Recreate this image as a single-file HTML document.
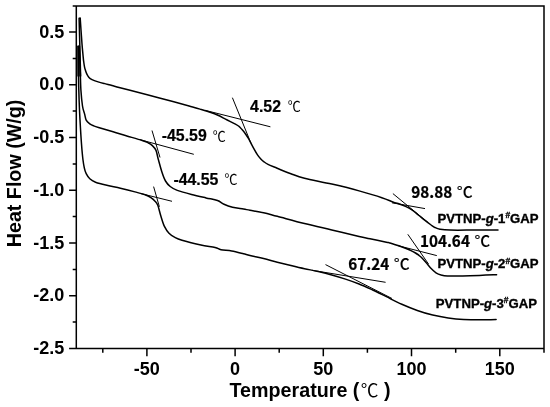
<!DOCTYPE html>
<html lang="en"><head><meta charset="utf-8"><title>DSC curves</title>
<style>
html,body{margin:0;padding:0;background:#fff;}
svg{display:block;will-change:transform;}
text{font-family:"Liberation Sans","Noto Sans CJK SC",sans-serif;fill:#000;}
.b{font-weight:bold;}
.deg{font-family:"Noto Sans CJK SC",sans-serif;font-weight:400;}
.yh{font-family:"Noto Sans CJK SC","Liberation Sans",sans-serif;font-weight:bold;}
.sdeg{font-family:"Noto Sans CJK SC","Liberation Sans",sans-serif;font-weight:500;}
</style></head><body>
<svg width="550" height="407" viewBox="0 0 550 407">
<rect width="550" height="407" fill="#fff"/>
<g fill="none" stroke="#000" stroke-width="1.5" stroke-linecap="butt">
<path d="M72.7,6.0 H544.0 V352.7 H544.0"/>
<path d="M76.3,6.0 V348.5"/>
<path d="M69.1,348.5 H544.0"/>
<path d="M69.1,32.0H76.3M72.7,58.4H76.3M69.1,84.8H76.3M72.7,111.1H76.3M69.1,137.5H76.3M72.7,163.9H76.3M69.1,190.2H76.3M72.7,216.6H76.3M69.1,243.0H76.3M72.7,269.4H76.3M69.1,295.8H76.3M72.7,322.1H76.3"/>
<path d="M102.8,348.5V352.7M146.9,348.5V356.2M191.0,348.5V352.7M235.1,348.5V356.2M279.2,348.5V352.7M323.3,348.5V356.2M367.4,348.5V352.7M411.5,348.5V356.2M455.7,348.5V352.7M499.8,348.5V356.2"/>
</g>
<g fill="none" stroke="#000" stroke-width="1.5" stroke-linejoin="round" stroke-linecap="round">
<path d="M80.6,76.0 L79.1,18.3 L80.2,18.3"/>
<path d="M80.2,18.3 C80.3,20.2 80.7,25.7 81.0,30.0 C81.3,34.3 81.7,40.0 82.0,44.0 C82.3,48.0 82.6,51.0 82.9,54.0 C83.2,57.0 83.4,59.6 83.7,61.7 C84.0,63.8 84.2,65.3 84.5,66.8 C84.8,68.3 85.1,69.2 85.5,70.5 C85.9,71.8 86.4,73.2 87.0,74.4 C87.6,75.6 88.2,76.6 89.0,77.5 C89.8,78.4 90.6,78.9 92.0,79.6 C93.4,80.3 95.3,81.0 97.3,81.6 C99.3,82.2 101.5,82.8 104.0,83.4 C106.5,84.1 109.5,84.8 112.0,85.5 C114.5,86.2 116.1,86.7 119.1,87.5 C122.1,88.3 125.2,89.1 130.0,90.3 C134.8,91.5 141.5,93.2 148.2,94.9 C154.9,96.7 163.2,99.0 170.0,100.8 C176.8,102.6 184.1,104.6 189.1,106.0 C194.1,107.4 196.4,108.0 200.0,109.1 C203.6,110.2 207.9,111.5 210.9,112.5 C213.9,113.5 215.6,114.2 218.0,115.3 C220.4,116.4 222.6,117.6 225.5,119.1 C228.4,120.6 233.2,122.9 235.4,124.1 C237.7,125.3 237.9,125.5 239.0,126.4 C240.1,127.3 241.0,128.5 242.0,129.6 C243.0,130.7 244.0,131.8 245.0,133.2 C246.0,134.6 247.1,136.2 248.2,138.0 C249.2,139.8 250.3,141.9 251.3,143.8 C252.3,145.7 253.4,147.8 254.4,149.6 C255.4,151.4 256.4,153.2 257.5,154.8 C258.6,156.4 259.7,157.7 260.8,158.9 C261.9,160.1 262.8,160.9 264.0,161.8 C265.2,162.7 265.8,163.2 268.0,164.3 C270.2,165.4 273.4,166.6 277.2,168.2 C281.0,169.8 286.3,172.0 290.9,173.7 C295.4,175.4 297.7,176.6 304.5,178.3 C311.3,180.0 322.7,182.0 331.8,184.1 C340.9,186.2 350.8,188.6 359.1,190.9 C367.4,193.2 376.2,195.8 381.8,197.7 C387.4,199.5 389.9,200.9 392.8,202.0 C395.7,203.1 397.1,203.3 399.2,204.0 C401.3,204.7 403.4,205.4 405.5,206.4 C407.6,207.4 409.8,208.5 411.9,209.9 C414.0,211.3 416.2,213.3 418.3,215.0 C420.4,216.7 422.6,218.4 424.7,220.1 C426.8,221.8 429.4,223.8 431.1,225.0 C432.8,226.2 433.4,226.8 434.9,227.5 C436.4,228.2 437.5,228.8 440.0,229.2 C442.5,229.6 444.2,229.9 450.0,230.1 C455.8,230.2 467.0,230.1 475.0,230.1 C483.0,230.1 494.2,229.9 498.0,229.9"/>
<path d="M79.0,76.0 L79.0,46.3 L79.4,46.3"/>
<path d="M79.4,46.3 C79.5,50.2 80.0,62.7 80.2,70.0 C80.5,77.3 80.5,84.0 80.9,90.0 C81.3,96.0 81.9,101.9 82.5,106.0 C83.1,110.1 84.1,112.0 84.7,114.4 C85.3,116.8 85.4,118.6 86.2,120.2 C87.0,121.8 88.6,122.9 89.8,123.8 C91.0,124.7 92.0,125.2 93.5,125.8 C95.0,126.4 95.2,126.5 98.5,127.5 C101.8,128.5 108.2,130.4 113.1,131.8 C117.9,133.2 122.8,134.8 127.6,136.2 C132.4,137.6 138.8,139.4 142.2,140.5 C145.6,141.6 146.3,141.8 148.0,142.7 C149.7,143.5 151.1,144.3 152.4,145.6 C153.7,146.9 155.0,148.2 156.0,150.4 C157.0,152.6 157.2,155.4 158.2,159.0 C159.2,162.6 160.7,168.3 161.9,172.0 C163.1,175.7 164.1,178.6 165.5,181.0 C166.9,183.4 168.2,184.9 170.2,186.5 C172.2,188.1 173.8,189.1 177.3,190.4 C180.9,191.7 186.7,193.2 191.5,194.4 C196.3,195.7 201.7,196.9 206.0,197.9 C210.3,198.9 214.5,199.4 217.5,200.5 C220.5,201.6 221.5,203.2 224.0,204.3 C226.5,205.4 229.2,206.4 232.5,207.2 C235.8,208.0 240.6,208.5 243.5,209.0 C246.4,209.5 246.7,209.7 250.0,210.3 C253.3,210.9 259.1,211.7 263.6,212.7 C268.2,213.7 270.5,214.5 277.3,216.3 C284.1,218.1 295.4,221.3 304.5,223.6 C313.6,225.9 322.7,227.8 331.8,229.9 C340.9,232.0 352.7,234.9 359.1,236.4 C365.5,237.9 365.4,237.7 370.0,238.7 C374.6,239.7 383.1,241.5 386.4,242.2 C389.7,242.9 387.3,242.2 390.0,243.0 C392.7,243.8 399.6,246.1 402.8,247.2 C406.0,248.3 407.1,248.8 409.2,249.8 C411.3,250.8 413.6,251.8 415.5,253.0 C417.4,254.2 419.0,255.3 420.7,256.8 C422.4,258.3 424.1,260.3 425.8,262.2 C427.5,264.1 429.2,266.5 430.9,268.3 C432.6,270.1 434.3,271.7 436.0,272.8 C437.7,273.9 439.2,274.5 441.1,275.0 C443.0,275.5 442.7,275.8 447.5,275.9 C452.3,276.0 461.8,276.0 470.0,275.8 C478.2,275.6 492.2,274.9 496.6,274.7"/>
<path d="M78.1,76.0 L78.1,46.3"/>
<path d="M78.1,46.3 C78.2,51.9 78.5,72.7 78.6,80.0 C78.7,87.3 78.6,83.3 78.8,90.0 C79.0,96.7 79.5,111.0 80.0,120.0 C80.5,129.0 81.0,137.3 81.5,144.0 C82.0,150.7 82.5,156.0 83.0,160.0 C83.5,164.0 83.8,165.6 84.3,167.9 C84.8,170.2 85.3,171.9 86.2,173.7 C87.1,175.5 88.2,177.4 89.8,178.8 C91.4,180.2 92.9,181.1 95.6,182.2 C98.3,183.2 101.7,184.1 105.8,185.1 C109.9,186.1 115.6,187.2 120.4,188.3 C125.2,189.4 130.8,190.8 134.9,191.9 C139.0,193.0 142.4,193.8 145.1,194.8 C147.8,195.8 149.2,196.6 150.9,197.7 C152.6,198.8 154.1,200.1 155.3,201.4 C156.5,202.7 157.0,203.2 157.9,205.6 C158.8,207.9 159.6,212.1 160.7,215.5 C161.8,218.9 162.9,223.2 164.3,226.1 C165.7,229.0 167.2,231.3 169.0,233.2 C170.8,235.1 172.7,236.2 174.9,237.4 C177.1,238.6 177.7,239.0 182.0,240.3 C186.3,241.6 195.4,243.8 200.9,245.0 C206.4,246.2 211.8,246.6 215.1,247.4 C218.4,248.2 218.2,249.1 221.0,249.7 C223.8,250.3 227.9,250.2 231.7,250.9 C235.4,251.6 240.4,253.0 243.5,253.8 C246.6,254.6 246.7,254.7 250.0,255.5 C253.3,256.3 259.1,257.5 263.6,258.6 C268.2,259.7 272.8,261.1 277.3,262.2 C281.9,263.3 286.4,264.4 290.9,265.5 C295.4,266.6 299.9,267.7 304.5,268.7 C309.1,269.7 313.6,270.4 318.2,271.5 C322.8,272.6 327.2,273.7 331.8,275.0 C336.4,276.3 340.9,277.6 345.5,279.1 C350.1,280.6 354.6,282.2 359.1,284.0 C363.6,285.8 368.1,287.9 372.7,290.0 C377.2,292.1 381.5,294.3 386.4,296.7 C391.2,299.1 396.6,302.0 401.8,304.3 C407.0,306.6 412.2,308.7 417.3,310.5 C422.4,312.3 427.6,313.9 432.7,315.1 C437.8,316.3 443.0,317.2 448.2,317.9 C453.4,318.6 458.5,319.1 463.6,319.4 C468.8,319.7 473.7,319.8 479.1,319.8 C484.5,319.8 493.3,319.5 496.1,319.4"/>
</g>
<g fill="none" stroke="#000" stroke-width="1">
<path d="M205.0,110.3 L270.4,126.8"/>
<path d="M232.4,97.7 L251.0,143.3"/>
<path d="M140.0,139.7 L193.8,154.3"/>
<path d="M152.0,130.5 L160.0,157.5"/>
<path d="M141.0,193.6 L172.0,201.3"/>
<path d="M153.6,186.6 L159.4,206.8"/>
<path d="M392.0,202.8 L425.0,208.6"/>
<path d="M392.9,193.6 L428.0,222.5"/>
<path d="M397.7,245.6 L436.8,255.6"/>
<path d="M407.8,234.3 L428.5,264.0"/>
<path d="M312.0,270.3 L385.6,282.3"/>
<path d="M325.5,264.6 L392.0,298.5"/>
</g>
<text class="b" font-size="18.7" text-anchor="end" transform="translate(64.3,37.6) scale(0.965,1)">0.5</text>
<text class="b" font-size="18.7" text-anchor="end" transform="translate(64.3,90.3) scale(0.965,1)">0.0</text>
<text class="b" font-size="18.7" text-anchor="end" transform="translate(64.3,143.1) scale(0.965,1)">-0.5</text>
<text class="b" font-size="18.7" text-anchor="end" transform="translate(64.3,195.8) scale(0.965,1)">-1.0</text>
<text class="b" font-size="18.7" text-anchor="end" transform="translate(64.3,248.6) scale(0.965,1)">-1.5</text>
<text class="b" font-size="18.7" text-anchor="end" transform="translate(64.3,301.4) scale(0.965,1)">-2.0</text>
<text class="b" font-size="18.7" text-anchor="end" transform="translate(64.3,354.1) scale(0.965,1)">-2.5</text>
<text class="b" font-size="18.7" text-anchor="middle" transform="translate(146.7,374.6) scale(0.965,1)">-50</text>
<text class="b" font-size="18.7" text-anchor="middle" transform="translate(235.1,374.6) scale(0.965,1)">0</text>
<text class="b" font-size="18.7" text-anchor="middle" transform="translate(323.3,374.6) scale(0.965,1)">50</text>
<text class="b" font-size="18.7" text-anchor="middle" transform="translate(411.5,374.6) scale(0.965,1)">100</text>
<text class="b" font-size="18.7" text-anchor="middle" transform="translate(499.8,374.6) scale(0.965,1)">150</text>
<text class="b" font-size="20" text-anchor="start" transform="translate(229.5,397.4) scale(0.985,1)">Temperature (<tspan class="deg" font-size="18" dx="1.5">℃</tspan><tspan dx="5.5">)</tspan></text>
<text class="b" font-size="20" transform="translate(21.0,247.3) rotate(-90) scale(0.985,0.97)">Heat Flow (W/g)</text>
<text class="b" font-size="16.3" text-anchor="start" stroke="#000" stroke-width="0.2" transform="translate(161.7,141.4) scale(0.975,1)">-45.59</text>
<text class="deg" font-size="14" text-anchor="start" transform="translate(212.8,140.7) scale(0.93,1)">℃</text>
<text class="b" font-size="16.3" text-anchor="start" stroke="#000" stroke-width="0.2" transform="translate(173.4,184.7) scale(0.975,1)">-44.55</text>
<text class="deg" font-size="14" text-anchor="start" transform="translate(224.4,184.0) scale(0.93,1)">℃</text>
<text class="b" font-size="16.3" text-anchor="start" stroke="#000" stroke-width="0.2" transform="translate(250.1,111.6) scale(0.975,1)">4.52</text>
<text class="deg" font-size="14" text-anchor="start" transform="translate(287.7,110.9) scale(0.93,1)">℃</text>
<text class="yh" font-size="16" text-anchor="start" stroke="#000" stroke-width="0.25" transform="translate(411.2,197.9) scale(0.955,1)">98.88<tspan class="sdeg" font-size="16" dx="4.8" stroke-width="0.12">°C</tspan></text>
<text class="yh" font-size="16" text-anchor="start" stroke="#000" stroke-width="0.25" transform="translate(419.9,246.8) scale(0.955,1)">104.64<tspan class="sdeg" font-size="16" dx="4.8" stroke-width="0.12">°C</tspan></text>
<text class="yh" font-size="16" text-anchor="start" stroke="#000" stroke-width="0.25" transform="translate(348.3,269.7) scale(0.955,1)">67.24<tspan class="sdeg" font-size="16" dx="4.8" stroke-width="0.12">°C</tspan></text>
<text class="b" font-size="13.3" text-anchor="start" stroke="#000" stroke-width="0.35" transform="translate(437.4,223.1) scale(0.99,1)">PVTNP-<tspan font-style="italic">g</tspan>-1<tspan font-size="8.5" dy="-4.8">#</tspan><tspan dy="4.8">GAP</tspan></text>
<text class="b" font-size="13.3" text-anchor="start" stroke="#000" stroke-width="0.35" transform="translate(437.4,268.3) scale(0.99,1)">PVTNP-<tspan font-style="italic">g</tspan>-2<tspan font-size="8.5" dy="-4.8">#</tspan><tspan dy="4.8">GAP</tspan></text>
<text class="b" font-size="13.3" text-anchor="start" stroke="#000" stroke-width="0.35" transform="translate(435.8,307.6) scale(0.99,1)">PVTNP-<tspan font-style="italic">g</tspan>-3<tspan font-size="8.5" dy="-4.8">#</tspan><tspan dy="4.8">GAP</tspan></text>
</svg></body></html>
